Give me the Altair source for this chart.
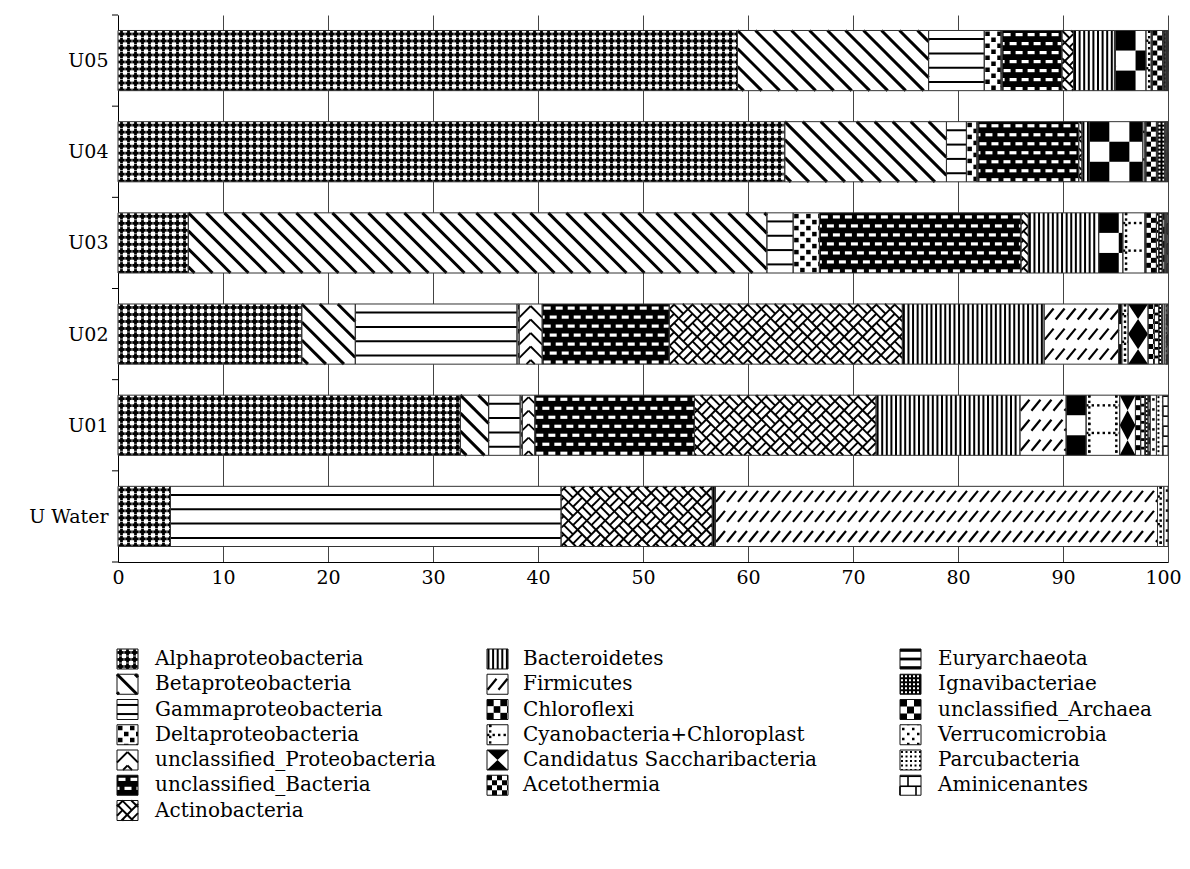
import math
import altair as alt
import pandas as pd

alt.data_transformers.disable_max_rows()

samples = ["U05", "U04", "U03", "U02", "U01", "U Water"]
taxa = ["Alphaproteobacteria", "Betaproteobacteria", "Gammaproteobacteria",
        "Deltaproteobacteria", "unclassified_Proteobacteria", "unclassified_Bacteria",
        "Actinobacteria", "Bacteroidetes", "Firmicutes", "Chloroflexi",
        "Cyanobacteria+Chloroplast", "Candidatus Saccharibacteria", "Acetothermia",
        "Euryarchaeota", "Ignavibacteriae", "unclassified_Archaea", "Verrucomicrobia",
        "Parcubacteria", "Aminicenantes"]

# relative abundance (%) per sample, in the order of `taxa`
u05 = [59.0, 18.2, 5.3, 1.6, 0.1, 5.7, 1.1, 3.9, 0.1, 2.9, 0.5, 0.1, 1.0, 0.1, 0.2, 0.05, 0.05, 0.05, 0.05]
u04 = [63.5, 15.4, 1.9, 1.0, 0.1, 9.6, 0.3, 0.7, 0.0, 5.1, 0.2, 0.1, 1.0, 0.1, 0.7, 0.1, 0.1, 0.05, 0.05]
u03 = [6.7, 55.1, 2.5, 2.5, 0.0, 19.2, 0.7, 6.7, 0.0, 2.3, 2.1, 0.1, 1.0, 0.2, 0.4, 0.2, 0.1, 0.1, 0.1]
u02 = [17.5, 5.1, 15.4, 0.2, 2.2, 12.1, 22.2, 13.5, 7.1, 0.3, 0.6, 1.9, 0.6, 0.4, 0.3, 0.1, 0.2, 0.2, 0.1]
u01 = [32.6, 2.7, 3.0, 0.2, 1.2, 15.2, 17.3, 13.7, 4.4, 1.9, 3.2, 1.5, 0.5, 0.4, 0.3, 0.2, 0.6, 0.6, 0.5]
uwater = [5.0, 0.0, 37.2, 0.0, 0.0, 0.0, 14.4, 0.3, 42.1, 0.0, 0.6, 0.0, 0.0, 0.0, 0.0, 0.0, 0.4, 0.0, 0.0]
rows = [u05, u04, u03, u02, u01, uwater]

x_ticks = list(range(0, 101, 10))

# ---- layout ----
PW, PH = 1050, 547
KX = PW / 100.0
STEP = PH / len(samples)
BAR_TOP, BAR_BOT = 0.17, 0.83
FONT = "DejaVu Serif"
FS = 20        # legend text
AFS = 19       # axis labels
K, WH = "black", "white"

R, L, P = [], [], []   # pattern rects, lines, points (pixel coordinates inside plot)


def rect(x0, y0, x1, y1, c, box):
    a, b = max(x0, box[0]), min(x1, box[2])
    u, v = max(y0, box[1]), min(y1, box[3])
    if b - a > 0.05 and v - u > 0.05:
        R.append((a, u, b, v, c))


def line(x0, y0, x1, y1, c, w, box):
    bx0, by0, bx1, by1 = box
    dx, dy = x1 - x0, y1 - y0
    t0, t1 = 0.0, 1.0
    for p, q in ((-dx, x0 - bx0), (dx, bx1 - x0), (-dy, y0 - by0), (dy, by1 - y0)):
        if abs(p) < 1e-12:
            if q < 0:
                return
        else:
            t = q / p
            if p < 0:
                if t > t1:
                    return
                t0 = max(t0, t)
            else:
                if t < t0:
                    return
                t1 = min(t1, t)
    if t1 - t0 <= 1e-9:
        return
    L.append((x0 + t0 * dx, y0 + t0 * dy, x0 + t1 * dx, y0 + t1 * dy, c, w))


def grid(box, px, py):
    x0, y0, x1, y1 = box
    nx = int(math.ceil((x1 - x0) / px)) + 1
    ny = int(math.ceil((y1 - y0) / py)) + 1
    for i in range(-1, nx):
        for j in range(-1, ny):
            yield x0 + i * px, y0 + j * py, i, j


def pat_alpha(box):
    for tx, ty, i, j in grid(box, 7, 7):
        rect(tx + 0.3, ty + 2.1, tx + 6.7, ty + 4.9, K, box)
        rect(tx + 2.1, ty + 0.3, tx + 4.9, ty + 6.7, K, box)
    return WH


def pat_beta(box):
    x0, y0, x1, y1 = box
    h = y1 - y0
    c = x0 - 18 * math.ceil(h / 18)
    while c < x1:
        line(c, y0, c + h, y1, K, 3, box)
        c += 18
    return WH


def pat_gamma(box):
    x0, y0, x1, y1 = box
    h = y1 - y0
    n = max(2, round(h / 14))
    for k in range(n):
        y = y0 + h * (k + 0.6) / (n + 0.2)
        line(x0, y, x1, y, K, 2, box)
    return WH


def pat_delta(box):
    for tx, ty, i, j in grid(box, 12, 12):
        rect(tx + 1, ty + 1, tx + 5.5, ty + 5.5, K, box)
        rect(tx + 7, ty + 7, tx + 11.5, ty + 11.5, K, box)
    return WH


def pat_chev(box):
    x0, y0, x1, y1 = box
    w = x1 - x0
    n = max(1, round(w / 16))
    cw = w / n
    for i in range(n):
        xl = x0 + i * cw
        xc, xr = xl + cw / 2, xl + cw
        ya = y0 + 2 - 13.5
        while ya < y1:
            line(xl, ya + cw / 2, xc, ya, K, 1.8, box)
            line(xc, ya, xr, ya + cw / 2, K, 1.8, box)
            ya += 13.5
    return WH


def pat_ubact(box):
    for tx, ty, i, j in grid(box, 12, 18):
        rect(tx + 1.5, ty + 2.5, tx + 8.5, ty + 5.7, WH, box)
        rect(tx + 7.5, ty + 11.5, tx + 14.5, ty + 14.7, WH, box)
    return K


def pat_actino(box, S=13, sw=1.9):
    x0, y0, x1, y1 = box
    r2 = math.sqrt(2)
    i0 = math.floor((x0 + y0) / r2 / S) - 1
    i1 = math.ceil((x1 + y1) / r2 / S) + 1
    j0 = math.floor((x0 - y1) / r2 / S) - 1
    j1 = math.ceil((x1 - y0) / r2 / S) + 1

    def seg(u0, v0, u1, v1):
        line((u0 + v0) / r2, (u0 - v0) / r2, (u1 + v1) / r2, (u1 - v1) / r2, K, sw, box)

    for i in range(i0, i1):
        for j in range(j0, j1):
            u, v = i * S, j * S
            seg(u, v, u + S, v)
            seg(u, v, u, v + S)
            if (i + j) % 2 == 0:
                seg(u, v + S / 2, u + S, v + S / 2)
            else:
                seg(u + S / 2, v, u + S / 2, v + S)
    return WH


def pat_bacter(box):
    x0, y0, x1, y1 = box
    x = x0 + 1.5
    while x < x1 - 0.5:
        line(x, y0, x, y1, K, 2, box)
        x += 4.6
    return WH


def pat_firm(box):
    x0, y0, x1, y1 = box
    h = y1 - y0
    n = max(1, round(h / 20))
    rh = h / n
    for k in range(n):
        yc = y0 + (k + 0.5) * rh
        x = x0 + 5
        while x < x1 + 6:
            line(x - 4.5, yc + 5.5, x + 4.5, yc - 5.5, K, 2.2, box)
            x += 11
    return WH


def pat_chloro(box):
    h = box[3] - box[1]
    S = h / 3
    for tx, ty, i, j in grid(box, S, S):
        if (i + j) % 2 == 0:
            rect(tx, ty, tx + S, ty + S, K, box)
    return WH


def pat_cyano(box):
    for tx, ty, i, j in grid(box, 27, 27.6):
        d = 0.0
        while d < 27:
            rect(tx + d, ty + 9, tx + d + 2.4, ty + 11.4, K, box)
            d += 5.5
        d = 0.0
        while d < 27.6:
            rect(tx + 2, ty + d, tx + 4.4, ty + d + 2.4, K, box)
            d += 5.5
    return WH


def pat_cand(box):
    x0, y0, x1, y1 = box
    w, h = x1 - x0, y1 - y0
    n = max(1, round(h / 28))
    rh = h / n
    nc = max(1, round(w / 22))
    cw = w / nc
    b = rh / 2
    a = cw / 2
    r = a / b
    size = (2 * b) ** 2
    for ci in range(nc):
        xc = x0 + (ci + 0.5) * cw
        for k in range(n + 1):
            yc = y0 + k * rh
            if k == 0:
                s = "M%.3f,0L%.3f,0L0,1Z" % (-r, r)
            elif k == n:
                s = "M%.3f,0L%.3f,0L0,-1Z" % (-r, r)
            else:
                s = "M0,-1L%.3f,0L0,1L%.3f,0Z" % (r, -r)
            P.append((xc, yc, s, size, K))
    return WH


def pat_checker(S):
    def f(box):
        for tx, ty, i, j in grid(box, S, S):
            if (i + j) % 2 == 0:
                rect(tx, ty, tx + S, ty + S, K, box)
        return WH
    return f


def pat_eury(box):
    x0, y0, x1, y1 = box
    y = y0 + 1.4
    while y < y1:
        line(x0, y, x1, y, K, 2.8, box)
        y += 8.6
    return WH


def pat_ignavi(box):
    for tx, ty, i, j in grid(box, 4, 4):
        rect(tx + 1, ty + 1, tx + 3, ty + 3, WH, box)
    return K


def pat_verru(box):
    for tx, ty, i, j in grid(box, 10, 10):
        rect(tx + 2, ty + 3, tx + 4.5, ty + 5.5, K, box)
        rect(tx + 7, ty + 8, tx + 9.5, ty + 10.5, K, box)
    return WH


def pat_parcu(box):
    for tx, ty, i, j in grid(box, 4.5, 4.5):
        rect(tx + 1, ty + 1, tx + 3, ty + 3, K, box)
    return WH


def pat_amini(box):
    x0, y0, x1, y1 = box
    k = 0
    y = y0 + 1
    while y < y1 + 10:
        line(x0, y, x1, y, K, 1.6, box)
        x = x0 + 8 + 8 * (k % 2) - 16
        while x < x1:
            line(x, y, x, y + 10, K, 1.6, box)
            x += 16
        y += 10
        k += 1
    return WH


patterns = [pat_alpha, pat_beta, pat_gamma, pat_delta, pat_chev, pat_ubact, pat_actino,
            pat_bacter, pat_firm, pat_chloro, pat_cyano, pat_cand, pat_checker(5),
            pat_eury, pat_ignavi, pat_checker(7), pat_verru, pat_parcu, pat_amini]

base, outl = [], []

# stacked bars
for r, vals in enumerate(rows):
    acc = 0.0
    for t, v in enumerate(vals):
        if v <= 0:
            continue
        box = (acc * KX, (r + BAR_TOP) * STEP, (acc + v) * KX, (r + BAR_BOT) * STEP)
        acc += v
        fill = patterns[t](box)
        base.append(box + (fill,))
        outl.append(box + ("#333333",))

# y-axis ticks at band edges
for r in range(len(samples) + 1):
    L.append((-6, r * STEP, 0, r * STEP, K, 1))

# custom patterned legend
col_start = [0, 7, 13]
LEG_SX = [-1, 369, 782]
LEG_TX = [37, 405, 820]
LEG_Y0, LEG_DY = 644, 25.25
texts = []
for t, name in enumerate(taxa):
    col = 0 if t < 7 else (1 if t < 13 else 2)
    row = t - col_start[col]
    yc = LEG_Y0 + LEG_DY * row
    box = (LEG_SX[col], yc - 10, LEG_SX[col] + 21, yc + 10)
    fill = patterns[t](box)
    base.append(box + (fill,))
    outl.append(box + ("#111111",))
    texts.append({"x": LEG_TX[col] / KX, "y": yc / STEP, "t": name})


def rect_df(items):
    return pd.DataFrame([{"x": round(a / KX, 4), "x2": round(b / KX, 4),
                          "y": round(u / STEP, 5), "y2": round(v / STEP, 5), "c": c}
                         for a, u, b, v, c in items])


df_base = rect_df(base)
df_prect = rect_df(R)
df_out = rect_df(outl)
df_lines = pd.DataFrame([{"x": round(a / KX, 4), "x2": round(b / KX, 4),
                          "y": round(u / STEP, 5), "y2": round(v / STEP, 5), "c": c, "w": w}
                         for a, u, b, v, c, w in L])
df_pts = pd.DataFrame([{"x": round(a / KX, 4), "y": round(u / STEP, 5), "s": s, "z": z, "c": c}
                       for a, u, s, z, c in P])
df_txt = pd.DataFrame(texts)

xs = alt.Scale(domain=[0, 100], nice=False, zero=False)
ys = alt.Scale(domain=[0, len(samples)], nice=False, zero=False, reverse=True)

label_expr = "[" + ",".join("'%s'" % s for s in samples) + "][floor(datum.value)]"

x_axis = alt.Axis(
    values=x_ticks, title=None, grid=True, gridColor="#444444", gridWidth=1,
    ticks=False, tickSize=0, labelPadding=6, labelFont=FONT, labelFontSize=AFS,
    labelColor="black", domainColor="black", domainWidth=1, labelFlush=False,
    labelOverlap=False,
    labelOffset={"condition": {"test": "datum.value == 100", "value": -5}, "value": 0})
y_axis = alt.Axis(
    values=[i + 0.5 for i in range(len(samples))], labelExpr=label_expr, title=None,
    grid=False, ticks=False, labelPadding=10, labelFont=FONT, labelFontSize=AFS,
    labelColor="black", domainColor="black", domainWidth=1)


def X(f):
    return alt.X(f + ":Q", scale=xs, axis=x_axis)


def Y(f):
    return alt.Y(f + ":Q", scale=ys, axis=y_axis)


base_layer = alt.Chart(df_base).mark_rect(strokeWidth=0).encode(
    x=X("x"), x2="x2:Q", y=Y("y"), y2="y2:Q", fill=alt.Fill("c:N", scale=None))

prect_layer = alt.Chart(df_prect).mark_rect(strokeWidth=0).encode(
    x=X("x"), x2="x2:Q", y=Y("y"), y2="y2:Q", fill=alt.Fill("c:N", scale=None))

lines_layer = alt.Chart(df_lines).mark_rule().encode(
    x=X("x"), x2="x2:Q", y=Y("y"), y2="y2:Q",
    color=alt.Color("c:N", scale=None),
    strokeWidth=alt.StrokeWidth("w:Q", scale=None))

pts_layer = alt.Chart(df_pts).mark_point(filled=True, opacity=1, strokeWidth=0).encode(
    x=X("x"), y=Y("y"),
    shape=alt.Shape("s:N", scale=None),
    size=alt.Size("z:Q", scale=None),
    color=alt.Color("c:N", scale=None))

out_layer = alt.Chart(df_out).mark_rect(fillOpacity=0, strokeWidth=1).encode(
    x=X("x"), x2="x2:Q", y=Y("y"), y2="y2:Q", stroke=alt.Stroke("c:N", scale=None))

txt_layer = alt.Chart(df_txt).mark_text(
    align="left", baseline="middle", font=FONT, fontSize=FS, color="black").encode(
    x=X("x"), y=Y("y"), text="t:N")

chart = alt.layer(base_layer, prect_layer, lines_layer, pts_layer, out_layer, txt_layer).properties(
    width=PW, height=PH,
    autosize=alt.AutoSizeParams(type="none"),
    padding={"left": 110, "top": 7, "right": 14, "bottom": 290},
).configure_view(stroke=None)

chart.save("out.html", embed_options={"renderer": "svg", "actions": False})
